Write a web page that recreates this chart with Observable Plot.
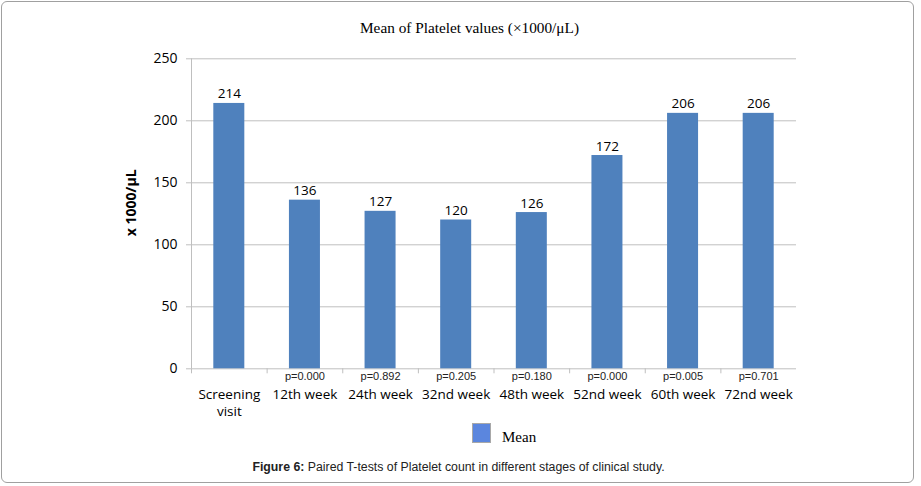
<!DOCTYPE html>
<html><head><meta charset="utf-8">
<script src="https://cdn.jsdelivr.net/npm/d3@7"></script>
<script src="https://cdn.jsdelivr.net/npm/@observablehq/plot@0.6"></script>
<style>
body{margin:0;background:#fff;}
#wrap{position:relative;width:921px;height:486px;overflow:hidden;background:#fff;}
#border{position:absolute;left:1px;top:1px;width:913px;height:482px;border:1.5px solid #a0a0a0;border-radius:6px;box-sizing:border-box;pointer-events:none;}
#chart{position:absolute;left:0;top:0;}
#title{position:absolute;left:269.5px;width:400px;top:20.3px;text-align:center;font-family:"Liberation Serif",serif;font-size:15.3px;line-height:15px;color:#000;white-space:nowrap;}
#swatch{position:absolute;left:472px;top:423px;width:19px;height:20px;box-sizing:border-box;border:1px solid #a8a8a8;background:#5B86DE;}
#legtext{position:absolute;left:502px;top:430.4px;font-family:"Liberation Serif",serif;font-size:15px;line-height:15px;color:#000;}
#caption{position:absolute;left:0;width:917px;top:460.5px;text-align:center;font-family:"Liberation Sans",Arial,sans-serif;font-size:12.3px;line-height:12px;color:#222;white-space:nowrap;}
</style>
</head><body>
<div id="wrap">
  <div id="chart"></div>
  <div id="title">Mean of Platelet values (×1000/μL)</div>
  <div id="swatch"></div>
  <div id="legtext">Mean</div>
  <div id="caption"><b>Figure 6:</b> Paired T-tests of Platelet count in different stages of clinical study.</div>
  <div id="border"></div>
</div>
<script>
const categories = ["Screening\nvisit","12th week","24th week","32nd week","48th week","52nd week","60th week","72nd week"];
const means = [214,136,127,120,126,172,206,206];
const pValues = ["","p=0.000","p=0.892","p=0.205","p=0.180","p=0.000","p=0.005","p=0.701"];
const yTicks = [0,50,100,150,200,250];
const yLabel = "x 1000/μL";

const data = categories.map((c,i)=>({category:c, mean:means[i], p:pValues[i]}));
const W=921,H=420,mL=191,mR=125,mT=58.3,mB=51.7;
const step=(W-mL-mR)/categories.length;
const grid="#bfbfbf";

const chart = Plot.plot({
  width:W,height:H,marginLeft:mL,marginRight:mR,marginTop:mT,marginBottom:mB,
  style:{fontFamily:"'Open Sans'",background:"transparent",overflow:"visible",color:"#000"},
  x:{domain:categories,paddingInner:0.59,paddingOuter:0.295,align:0.5,round:false},
  y:{domain:[0,250]},
  marks:[
    Plot.gridY(yTicks.slice(1),{stroke:grid,strokeOpacity:1}),
    Plot.ruleX([categories[0]],{dx:-step/2,stroke:grid}),
    Plot.ruleY([0],{stroke:grid}),
    Plot.axisY({ticks:yTicks,tickSize:5,tickPadding:9,stroke:grid,fill:"#000",fontSize:14,label:null}),
    Plot.axisX({dx:-step/2,tickSize:5,tickFormat:()=>"",label:null,stroke:grid}),
    Plot.axisX({tickSize:0,tickPadding:18,fontSize:13.5,label:null,lineHeight:1.25,fill:"#000"}),
    Plot.barY(data,{x:"category",y:"mean",fill:"#4F81BD"}),
    Plot.text(data,{x:"category",y:"mean",text:d=>String(d.mean),lineAnchor:"bottom",dy:-5,fontSize:13.5,fill:"#000"}),
    Plot.text(data,{x:"category",text:"p",frameAnchor:"bottom",lineAnchor:"middle",dy:8,fontSize:11,fontFamily:"Liberation Sans",fill:"#222"}),
    Plot.text([yLabel],{frameAnchor:"left",textAnchor:"middle",lineAnchor:"middle",dx:-60,dy:-11,rotate:-90,fontWeight:"bold",fontSize:14,fill:"#000"})
  ]
});
document.getElementById("chart").appendChild(chart);
</script>
</body></html>
